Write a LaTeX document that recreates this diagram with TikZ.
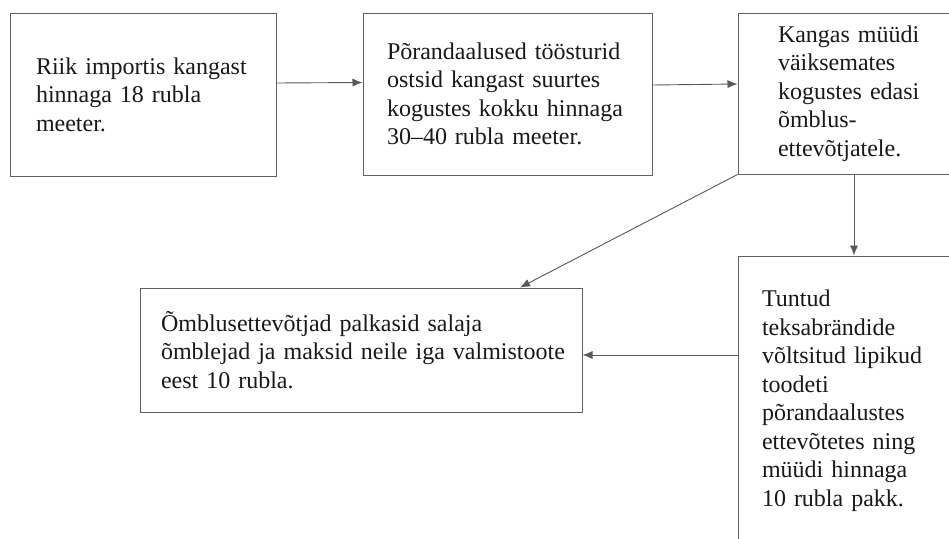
\documentclass[tikz,border=0pt]{standalone}
\usepackage{fontspec}
\setmainfont{Liberation Serif}
\usetikzlibrary{arrows.meta}
\hyphenpenalty=10000
\exhyphenpenalty=10000
\begin{document}
\begin{tikzpicture}[x=1pt,y=-1pt,
  box/.style={draw=black!62, line width=1pt, align=left, text=black!90,
    font=\fontsize{24}{28.5}\selectfont, inner ysep=0pt},
  arr/.style={draw=black!65, line width=0.9pt, -{Latex[length=10pt,width=8pt]}}]
\useasboundingbox (0,0) rectangle (949,538);
\clip (0,0) rectangle (949,538);
\fill[white] (0,0) rectangle (949,538);
\node[box, minimum width=266pt, minimum height=163pt, inner xsep=26pt, text width=214pt] (b1) at (143,94.5)
  {Riik importis kangast\\hinnaga 18 rubla\\meeter.};
\node[box, minimum width=289pt, minimum height=162pt, inner xsep=24pt, text width=241pt] (b2) at (507.5,94)
  {Põrandaalused töösturid\\ostsid kangast suurtes\\kogustes kokku hinnaga\\30–40 rubla meeter.};
\node[box, minimum width=242pt, minimum height=161pt, inner xsep=40pt, text width=162pt] (b3) at (859,93.5)
  {Kangas müüdi\\väiksemates\\kogustes edasi\\õmblus-\\ettevõtjatele.};
\node[box, minimum width=442pt, minimum height=124pt, inner xsep=21pt, text width=400pt] (b4) at (361,350)
  {Õmblusettevõtjad palkasid salaja\\\mbox{õmblejad ja maksid neile iga valmistoote}\\eest 10 rubla.};
\node[box, minimum width=242pt, minimum height=289pt, inner xsep=24pt, text width=194pt] (b5) at (859,400.5)
  {Tuntud\\teksabrändide\\võltsitud lipikud\\toodeti\\põrandaalustes\\ettevõtetes ning\\müüdi hinnaga\\10 rubla pakk.};
\draw[arr] ([yshift=11.5pt]b1.east) -- ([yshift=11.5pt]b2.west);
\draw[arr] ([yshift=9pt]b2.east) -- ([yshift=9.5pt]b3.west);
\draw[arr] ([xshift=-5pt]b3.south) -- ([xshift=-5pt]b5.north);
\draw[arr] (b3.south west) -- ([xshift=159pt]b4.north);
\draw[arr] ([yshift=45.5pt]b5.west) -- ([yshift=-5pt]b4.east);
\end{tikzpicture}
\end{document}
